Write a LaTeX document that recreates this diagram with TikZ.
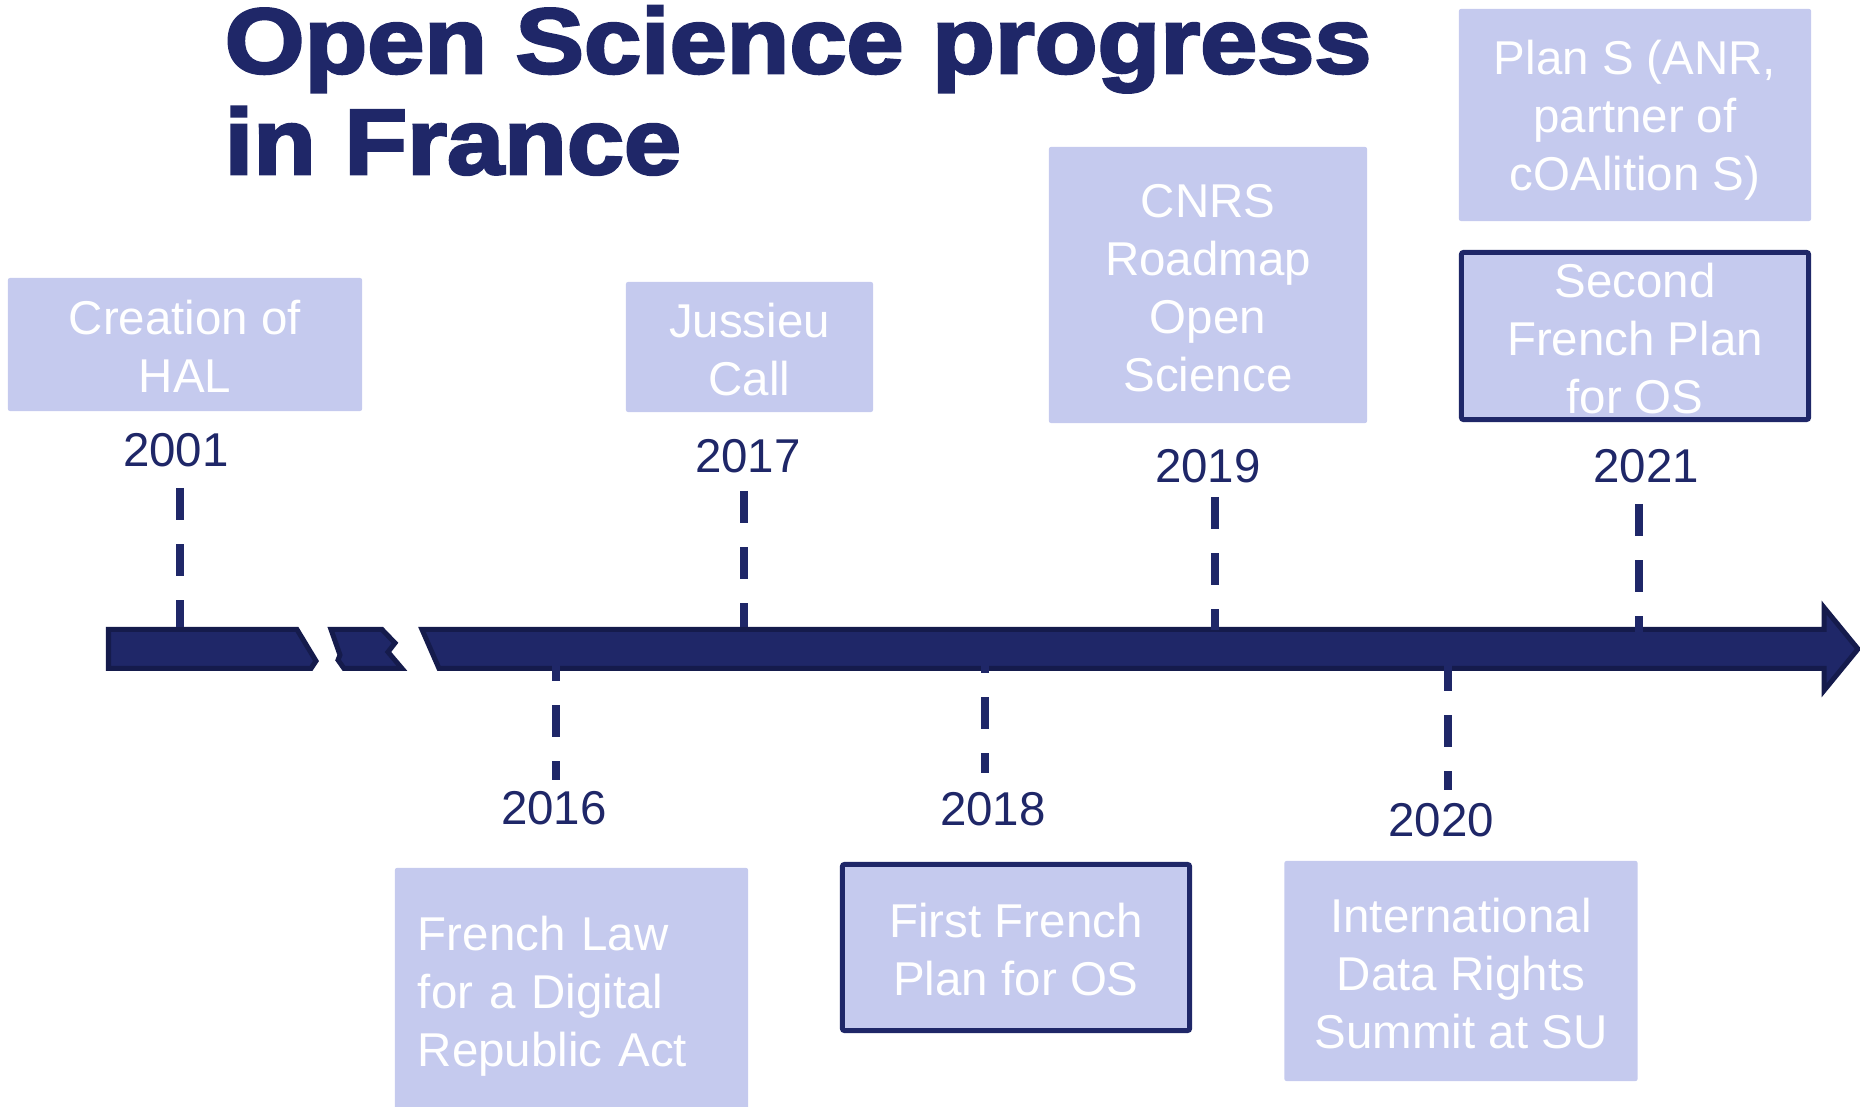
\documentclass[tikz,border=0pt]{standalone}
\usepackage{fontspec}
\setmainfont{Liberation Sans}
\newfontfamily\titlefont[FakeStretch=1.11,FakeBold=3]{Liberation Sans Bold}
\newcommand\evfont{\fontsize{13.5}{16.5}\selectfont}
\newcommand\tstrut[1]{\rule{0pt}{#1}}
\definecolor{navy}{HTML}{1F2768}
\definecolor{barline}{HTML}{151B4C}
\definecolor{boxfill}{HTML}{C5CAEE}
\tikzset{
  evbox/.style={fill=boxfill, text=white, align=center, font=\evfont, inner sep=0pt, rounded corners=0.6pt},
  framed/.style={draw=navy, line width=0.05cm},
  yearlbl/.style={text=navy, font=\evfont, inner sep=0pt, anchor=base},
  tickline/.style={navy, line width=0.08cm, dash pattern=on 0.315cm off 0.245cm},
  barseg/.style={fill=navy, draw=barline, line width=0.05cm, line join=miter}
}
\begin{document}
\begin{tikzpicture}[x=0.01cm, y=-0.01cm]
\useasboundingbox (0,0) rectangle (1860,1107);

% title
\node[anchor=base west, inner sep=0pt, text=navy, font=\titlefont\fontsize{26.3}{28.7}\selectfont] (title) at (224,73)
  {\vtop{\hbox{Open Science progress}\hbox{in France}}};

% timeline bar with breaks
\path[barseg] (108.5,629.5) -- (297,629.5) -- (316,661) -- (311,668.5) -- (108.5,668.5) -- cycle;
\path[barseg] (331,629.5) -- (382,629.5) -- (395,643) -- (388,652) -- (402,668.5) -- (344,668.5) -- (338,660) -- (340,655) -- cycle;
\path[barseg] (422,629.5) -- (1824,629.5) -- (1824,607.5) -- (1858,649) -- (1824,690.5) -- (1824,668.5) -- (439,668.5) -- cycle;

% event boxes
\node[evbox, minimum width=3.54cm, minimum height=1.33cm] (hal) at (185,344.5) {\tstrut{11pt}Creation of\\HAL};
\node[evbox, minimum width=2.47cm, minimum height=1.30cm] (jussieu) at (749.5,347) {\tstrut{11.2pt}Jussieu\\Call};
\node[evbox, minimum width=3.18cm, minimum height=2.76cm] (cnrs) at (1208,285) {\tstrut{11pt}CNRS\\Roadmap\\Open\\Science};
\node[evbox, minimum width=3.52cm, minimum height=2.12cm] (plans) at (1635,115) {\tstrut{13pt}Plan S (ANR,\\partner of\\cOAlition S)};
\node[evbox, framed, minimum width=3.47cm, minimum height=1.67cm] (second) at (1635,336) {\tstrut{11.2pt}Second\\French Plan\\for OS};
\node[evbox, minimum height=2.54cm, text width=3.07cm, inner xsep=0.23cm, align=left] (law) at (571.5,995) {\tstrut{10.6pt}French Law\\for a Digital\\Republic Act};
\node[evbox, framed, minimum width=3.47cm, minimum height=1.66cm] (first) at (1016,947.5) {\tstrut{10.8pt}First French\\Plan for OS};
\node[evbox, minimum width=3.53cm, minimum height=2.20cm] (intl) at (1461,971) {\tstrut{11.2pt}International\\Data Rights\\Summit at SU};

% years
\node[yearlbl] (y2001) at (176,467) {2001};
\node[yearlbl] (y2017) at (748,473) {2017};
\node[yearlbl] (y2019) at (1208,483) {2019};
\node[yearlbl] (y2021) at (1646,483) {2021};
\node[yearlbl] (y2016) at (554,825) {2016};
\node[yearlbl] (y2018) at (993,826) {2018};
\node[yearlbl] (y2020) at (1441,837) {2020};

% tick coordinates
\coordinate (t01a) at (180,488);  \coordinate (t01b) at (180,627);
\coordinate (t17a) at (744,491);  \coordinate (t17b) at (744,627);
\coordinate (t19a) at (1215,497); \coordinate (t19b) at (1215,630);
\coordinate (t21a) at (1639,504); \coordinate (t21b) at (1639,633);
\coordinate (t16a) at (556,649);  \coordinate (t16b) at (556,780);
\coordinate (t18a) at (985,641);  \coordinate (t18b) at (985,773);
\coordinate (t20a) at (1448,659); \coordinate (t20b) at (1448,790);

\draw[tickline] (t01a) -- (t01b);
\draw[tickline] (t17a) -- (t17b);
\draw[tickline] (t19a) -- (t19b);
\draw[tickline] (t21a) -- (t21b);
\draw[tickline] (t16a) -- (t16b);
\draw[tickline] (t18a) -- (t18b);
\draw[tickline] (t20a) -- (t20b);
\end{tikzpicture}
\end{document}
